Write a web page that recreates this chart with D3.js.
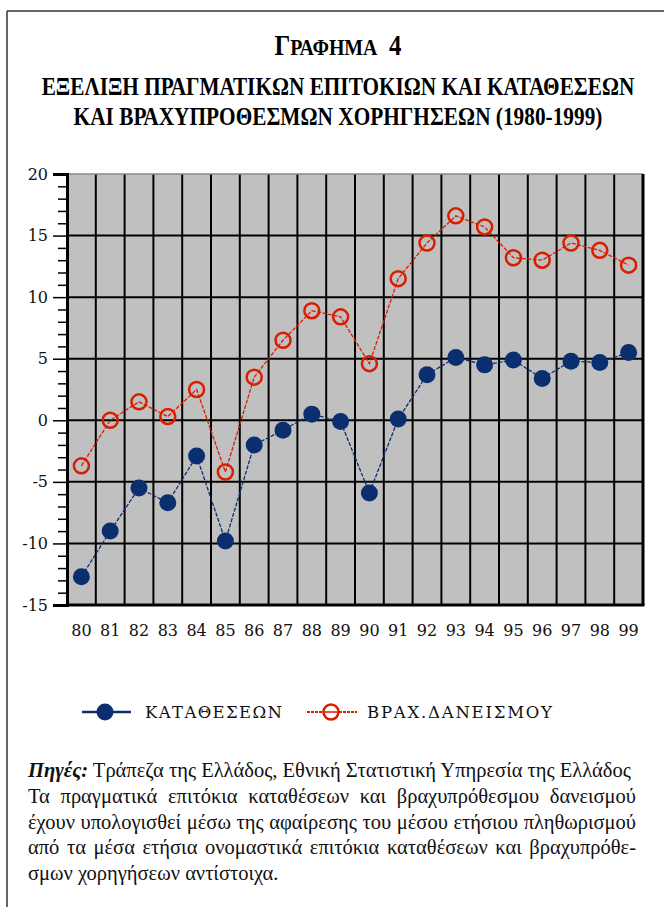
<!DOCTYPE html>
<html>
<head>
<meta charset="utf-8">
<script src="https://cdn.jsdelivr.net/npm/d3@7"></script>
<style>
  html, body { margin: 0; padding: 0; background: #fff; }
  svg { display: block; }
</style>
</head>
<body>
<svg id="chart" width="664" height="907"></svg>
<script>
// Years (1980-1999) shown as two-digit labels
const years = ["80","81","82","83","84","85","86","87","88","89",
               "90","91","92","93","94","95","96","97","98","99"];
// Real deposit interest rates (%)
const deposits = [-12.7, -9.0, -5.5, -6.7, -2.9, -9.8, -2.0, -0.8, 0.5, -0.1,
                  -5.9, 0.1, 3.7, 5.1, 4.5, 4.9, 3.4, 4.8, 4.7, 5.5];
// Real short-term lending interest rates (%)
const lending = [-3.7, 0.0, 1.5, 0.3, 2.5, -4.2, 3.5, 6.5, 8.9, 8.4,
                 4.6, 11.5, 14.4, 16.6, 15.7, 13.2, 13.0, 14.4, 13.8, 12.6];
const yTicks = [-15, -10, -5, 0, 5, 10, 15, 20];
const seriesNames = ["ΚΑΤΑΘΕΣΕΩΝ", "ΒΡΑΧ.ΔΑΝΕΙΣΜΟΥ"];

const titleTop = "ΓΡΑΦΗΜΑ";
const titleLines = ["ΕΞΕΛΙΞΗ ΠΡΑΓΜΑΤΙΚΩΝ ΕΠΙΤΟΚΙΩΝ ΚΑΙ ΚΑΤΑΘΕΣΕΩΝ",
                    "ΚΑΙ ΒΡΑΧΥΠΡΟΘΕΣΜΩΝ ΧΟΡΗΓΗΣΕΩΝ (1980-1999)"];
const sourceLabel = "Πηγές:";
const sourceText = " Τράπεζα της Ελλάδος, Εθνική Στατιστική Υπηρεσία της Ελλάδος";
const noteLines = [
  "Τα πραγματικά επιτόκια καταθέσεων και βραχυπρόθεσμου δανεισμού",
  "έχουν υπολογισθεί μέσω της αφαίρεσης του μέσου ετήσιου πληθωρισμού",
  "από τα μέσα ετήσια ονομαστικά επιτόκια καταθέσεων και βραχυπρόθε-",
  "σμων χορηγήσεων αντίστοιχα."
];

const BLUE = "#0b2f6e";
const RED = "#d91e00";
const svg = d3.select("#chart");

// ---- page frame ----
svg.append("line").attr("x1", 7).attr("x2", 664).attr("y1", 11).attr("y2", 11)
  .attr("stroke", "#333").attr("stroke-width", 1.5);
svg.append("line").attr("x1", 7).attr("x2", 7).attr("y1", 11).attr("y2", 907)
  .attr("stroke", "#333").attr("stroke-width", 1.5);

// ---- titles (condensed bold serif) ----
const serif = "'Liberation Serif', 'Times New Roman', serif";
const labelFont = "'DejaVu Serif', serif";
function condensed(sel, cx, targetW) {
  const w = sel.node().getBBox().width;
  sel.attr("transform", `translate(${cx},0) scale(${targetW / w},1)`);
}
const titleX = 338;
const t0 = svg.append("text").attr("x", 0).attr("y", 55)
  .attr("text-anchor", "middle").attr("font-family", serif).attr("font-weight", "bold");
t0.append("tspan").attr("font-size", 30).text(titleTop[0]);
t0.append("tspan").attr("font-size", 24).text(titleTop.slice(1));
t0.append("tspan").attr("font-size", 30).attr("dx", 14).text("4");
condensed(t0, titleX, 127);

[[titleLines[0], 95, 593], [titleLines[1], 125, 529]].forEach(([s, yy, w]) => {
  const t = svg.append("text").attr("x", 0).attr("y", yy)
    .attr("text-anchor", "middle").attr("font-family", serif)
    .attr("font-weight", "bold").attr("font-size", 26).text(s);
  condensed(t, titleX, w);
});

// ---- plot ----
const pL = 67, pR = 643, pT = 174, pB = 605;
const x = d3.scaleBand().domain(years).range([pL, pR]).padding(0);
const y = d3.scaleLinear().domain([-15, 20]).range([pB, pT]);

svg.append("rect").attr("x", pL).attr("y", pT)
  .attr("width", pR - pL).attr("height", pB - pT).attr("fill", "#c0c0c0");

// vertical grid at category boundaries
const g = svg.append("g");
years.slice(1).forEach(d => {
  g.append("line").attr("x1", x(d)).attr("x2", x(d)).attr("y1", pT).attr("y2", pB)
    .attr("stroke", "#000").attr("stroke-width", 2);
});
// horizontal grid
yTicks.filter(v => v > -15 && v < 20).forEach(v => {
  g.append("line").attr("x1", pL).attr("x2", pR).attr("y1", y(v)).attr("y2", y(v))
    .attr("stroke", "#000").attr("stroke-width", 2);
});
// frame of plot area
g.append("line").attr("x1", pL).attr("x2", pR).attr("y1", pT).attr("y2", pT)
  .attr("stroke", "#8a8a8a").attr("stroke-width", 1.5);
g.append("line").attr("x1", pL).attr("x2", pR + 1.5).attr("y1", pB).attr("y2", pB)
  .attr("stroke", "#000").attr("stroke-width", 3);
g.append("line").attr("x1", pR).attr("x2", pR).attr("y1", pT).attr("y2", pB)
  .attr("stroke", "#000").attr("stroke-width", 3);

// y axis: major ticks every 5, minor every 1
const yAxis = d3.axisLeft(y).tickValues(yTicks).tickSize(14).tickFormat(d => String(d));
const ya = svg.append("g").attr("transform", `translate(${pL},0)`).call(yAxis);
ya.select(".domain").attr("stroke", "#000").attr("stroke-width", 3);
ya.selectAll(".tick line").attr("stroke", "#000").attr("stroke-width", 1.5);
ya.selectAll(".tick text").attr("x", -19)
  .attr("font-family", labelFont).attr("font-size", 16).attr("fill", "#111");
const minor = d3.range(-15, 21).filter(v => v % 5 !== 0);
const ym = svg.append("g").attr("transform", `translate(${pL},0)`)
  .call(d3.axisLeft(y).tickValues(minor).tickSize(9).tickFormat(""));
ym.select(".domain").remove();
ym.selectAll(".tick line").attr("stroke", "#000").attr("stroke-width", 1.5);

// x axis labels
const xa = svg.append("g").attr("transform", `translate(0,${pB})`)
  .call(d3.axisBottom(x).tickSize(0).tickPadding(20));
xa.select(".domain").remove();
xa.selectAll(".tick text").attr("font-family", labelFont)
  .attr("font-size", 16).attr("fill", "#111");

// series lines
const line = d3.line().x((d, i) => x(years[i]) + x.bandwidth() / 2).y(d => y(d));
svg.append("path").datum(deposits).attr("d", line).attr("fill", "none")
  .attr("stroke", BLUE).attr("stroke-width", 1.3).attr("stroke-dasharray", "4,1.5");
svg.append("path").datum(lending).attr("d", line).attr("fill", "none")
  .attr("stroke", RED).attr("stroke-width", 1.3).attr("stroke-dasharray", "4,1.5");

// markers
svg.append("g").selectAll("circle").data(deposits).join("circle")
  .attr("cx", (d, i) => x(years[i]) + x.bandwidth() / 2).attr("cy", d => y(d))
  .attr("r", 8.5).attr("fill", BLUE);
svg.append("g").selectAll("circle").data(lending).join("circle")
  .attr("cx", (d, i) => x(years[i]) + x.bandwidth() / 2).attr("cy", d => y(d))
  .attr("r", 7.5).attr("fill", "none").attr("stroke", RED).attr("stroke-width", 2.5);

// ---- legend ----
const ly = 712;
const lg = svg.append("g");
lg.append("line").attr("x1", 82).attr("x2", 131).attr("y1", ly).attr("y2", ly)
  .attr("stroke", BLUE).attr("stroke-width", 2.5);
lg.append("circle").attr("cx", 105).attr("cy", ly).attr("r", 8.5).attr("fill", BLUE);
lg.append("line").attr("x1", 307).attr("x2", 357).attr("y1", ly).attr("y2", ly)
  .attr("stroke", RED).attr("stroke-width", 2).attr("stroke-dasharray", "3,1");
lg.append("circle").attr("cx", 331).attr("cy", ly).attr("r", 7.5)
  .attr("fill", "#fff").attr("stroke", RED).attr("stroke-width", 2.5);
lg.append("line").attr("x1", 324).attr("x2", 338).attr("y1", ly).attr("y2", ly)
  .attr("stroke", RED).attr("stroke-width", 1.5);
[[seriesNames[0], 145, 137], [seriesNames[1], 367, 185]].forEach(([s, lx, w]) => {
  lg.append("text").attr("x", lx).attr("y", ly + 6)
    .attr("font-family", labelFont).attr("font-size", 16.5).attr("fill", "#111")
    .attr("textLength", w).attr("lengthAdjust", "spacing").text(s);
});

// ---- source and note ----
const fx = 28, fRight = 636, fSize = 20.5;
const src = svg.append("text").attr("x", fx).attr("y", 777)
  .attr("font-family", serif).attr("font-size", fSize).attr("fill", "#111");
src.append("tspan").attr("font-weight", "bold").attr("font-style", "italic").text(sourceLabel);
src.append("tspan").text(sourceText);

// justified paragraph: spread words across the full width
function justified(str, yy, justify) {
  const words = str.split(" ");
  const grp = svg.append("g");
  const nodes = words.map(w => grp.append("text").attr("y", yy)
    .attr("font-family", serif).attr("font-size", fSize).attr("fill", "#111").text(w));
  const widths = nodes.map(n => n.node().getComputedTextLength());
  const total = d3.sum(widths);
  const gap = justify ? Math.max(3, (fRight - fx - total) / (words.length - 1)) : fSize * 0.25;
  let cur = fx;
  nodes.forEach((n, i) => { n.attr("x", cur); cur += widths[i] + gap; });
}
const noteY = [803, 829, 854, 880];
noteLines.forEach((s, i) => justified(s, noteY[i], i < noteLines.length - 1));
</script>
</body>
</html>
